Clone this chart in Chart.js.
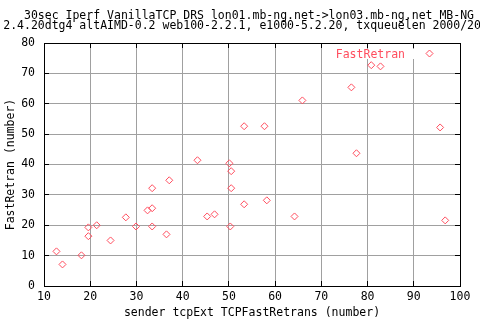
<!DOCTYPE html>
<html><head><meta charset="utf-8">
<script src="https://cdn.jsdelivr.net/npm/chart.js@4.4.1/dist/chart.umd.min.js"></script>
<style>html,body{margin:0;padding:0;background:#fff;}canvas{display:block;}</style>
</head><body>
<canvas id="c" width="480" height="320"></canvas>
<script>
const titleLines = [
  "30sec Iperf VanillaTCP DRS lon01.mb-ng.net->lon03.mb-ng.net MB-NG",
  "2.4.20dtg4 altAIMD-0.2 web100-2.2.1, e1000-5.2.20, txqueuelen 2000/2000"
];
const seriesName = "FastRetran";
const xTitle = "sender tcpExt TCPFastRetrans (number)";
const yTitle = "FastRetran (number)";
const xTicks = [10, 20, 30, 40, 50, 60, 70, 80, 90, 100];
const yTicks = [0, 10, 20, 30, 40, 50, 60, 70, 80];
const senderFastRetrans = [12.7, 14.0, 18.1, 19.6, 19.6, 21.4, 24.4, 27.7, 29.9, 32.4, 33.4, 33.4, 33.4, 36.5, 37.1, 43.2, 45.3, 46.9, 50.1, 50.5, 50.5, 50.3, 53.3, 53.3, 57.7, 58.2, 64.2, 65.9, 76.5, 77.6, 80.8, 82.8, 95.7, 96.8];
const fastRetran =        [11.4, 7.1, 10.1, 19.3, 16.4, 20.0, 15.0, 22.6, 19.6, 24.9, 32.2, 25.6, 19.6, 17.0, 34.8, 41.4, 22.9, 23.6, 40.4, 37.8, 32.2, 19.6, 26.9, 52.6, 52.6, 28.2, 22.9, 61.1, 65.4, 43.7, 72.7, 72.3, 52.2, 21.6];

const FONT = '"DejaVu Sans Mono", monospace';
const PINK = 'rgb(255,77,94)';
const GRID = '#a0a0a0';

function diamond(ctx, x, y, r) {
  ctx.beginPath();
  ctx.moveTo(x, y - r); ctx.lineTo(x + r, y); ctx.lineTo(x, y + r); ctx.lineTo(x - r, y); ctx.closePath();
  ctx.stroke();
}

const gnuplotDecor = {
  id: 'gnuplotDecor',
  beforeDatasetsDraw(chart) {
    const {ctx} = chart;
    ctx.save();
    ctx.fillStyle = '#fff';
    ctx.fillRect(334, 49, 108, 10);
    ctx.restore();
  },
  afterDatasetsDraw(chart) {
    const {ctx} = chart;
    ctx.save();
    ctx.font = '11.5px ' + FONT;
    ctx.fillStyle = PINK;
    ctx.textAlign = 'right';
    ctx.textBaseline = 'alphabetic';
    ctx.fillText(chart.data.datasets[0].label, 405, 57.5);
    ctx.strokeStyle = PINK; ctx.lineWidth = 1;
    diamond(ctx, 429.5, 53.5, 3.5);
    ctx.restore();
  },
  afterDraw(chart) {
    const {ctx, chartArea} = chart;
    ctx.save();
    ctx.font = '11.5px ' + FONT;
    ctx.fillStyle = '#000';
    ctx.textAlign = 'center';
    ctx.textBaseline = 'alphabetic';
    const cx = (chartArea.left + chartArea.right) / 2 - 3;
    ctx.fillText(titleLines[0], cx, 18.5);
    ctx.fillText(titleLines[1], cx, 29);
    ctx.restore();
  }
};

const points = senderFastRetrans.map((x, i) => ({x, y: fastRetran[i]}));

const tickGrid = (onArea) => ({
  display: true, drawOnChartArea: onArea, drawTicks: true, tickLength: -5,
  color: GRID, lineWidth: 1, tickColor: '#000', tickWidth: 1
});
const border = {display: true, color: '#000', width: 1};

new Chart(document.getElementById('c'), {
  type: 'scatter',
  data: {
    datasets: [{
      label: seriesName,
      data: points,
      pointStyle: 'rectRot',
      radius: 3.5,
      hoverRadius: 3.5,
      borderWidth: 1,
      borderColor: PINK,
      backgroundColor: 'rgba(0,0,0,0)'
    }]
  },
  options: {
    responsive: false,
    animation: false,
    devicePixelRatio: 1,
    layout: {padding: {top: 43, left: 0, right: 0, bottom: 0}},
    plugins: {legend: {display: false}, title: {display: false}, tooltip: {enabled: false}},
    scales: {
      x: {
        type: 'linear', position: 'bottom',
        min: xTicks[0], max: xTicks[xTicks.length - 1],
        afterBuildTicks: (s) => { s.ticks = xTicks.map(v => ({value: v})); },
        ticks: {font: {family: FONT, size: 11.5}, color: '#000', padding: 9, maxRotation: 0, autoSkip: false},
        grid: tickGrid(true), border,
        title: {display: true, text: xTitle, font: {family: FONT, size: 11.5}, color: '#000', padding: {top: 0, bottom: 0}},
        afterFit: (s) => { s.height = 34; }
      },
      x2: {
        type: 'linear', position: 'top',
        min: xTicks[0], max: xTicks[xTicks.length - 1],
        afterBuildTicks: (s) => { s.ticks = xTicks.map(v => ({value: v})); },
        ticks: {display: false},
        grid: tickGrid(false), border,
        afterFit: (s) => { s.height = 0; }
      },
      y: {
        type: 'linear', position: 'left',
        min: yTicks[0], max: yTicks[yTicks.length - 1],
        afterBuildTicks: (s) => { s.ticks = yTicks.map(v => ({value: v})); },
        ticks: {font: {family: FONT, size: 11.5}, color: '#000', padding: 14, autoSkip: false},
        grid: tickGrid(true), border,
        title: {display: true, text: yTitle, font: {family: FONT, size: 11.5}, color: '#000', padding: {top: 4, bottom: 0}},
        afterFit: (s) => { s.width = 44; }
      },
      y2: {
        type: 'linear', position: 'right',
        min: yTicks[0], max: yTicks[yTicks.length - 1],
        afterBuildTicks: (s) => { s.ticks = yTicks.map(v => ({value: v})); },
        ticks: {display: false},
        grid: tickGrid(false), border,
        afterFit: (s) => { s.width = 20; }
      }
    }
  },
  plugins: [gnuplotDecor]
});
</script>
</body></html>
